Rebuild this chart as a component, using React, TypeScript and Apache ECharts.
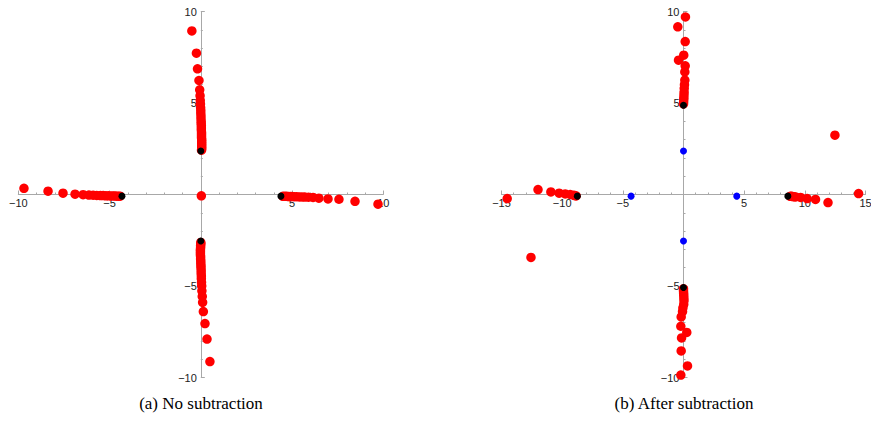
import React, { useEffect, useRef } from "react";
import * as echarts from "echarts";

// (a) No subtraction
const leftRed: number[][] = [
  // upper arm
  [-0.49, 8.94], [-0.24, 7.72], [-0.18, 6.87], [-0.1, 6.23], [-0.06, 5.72], [-0.04, 5.4],
  [-0.03, 5.15], [-0.02, 4.95], [-0.01, 4.75], [0, 4.6], [0, 4.45], [0.01, 4.3], [0.01, 4.15],
  [0.02, 4.0], [0.02, 3.88], [0.03, 3.76], [0.03, 3.64], [0.03, 3.52], [0.04, 3.4], [0.04, 3.3],
  [0.04, 3.2], [0.04, 3.1], [0.05, 3.0], [0.05, 2.9], [0.05, 2.8], [0.05, 2.7], [0.05, 2.6],
  [0.05, 2.5], [0.04, 2.42],
  // lower arm
  [0.5, -9.13], [0.34, -7.9], [0.23, -7.05], [0.14, -6.4], [0.1, -5.89], [0.08, -5.57],
  [0.06, -5.26], [0.05, -5.0], [0.04, -4.8], [0.03, -4.6], [0.03, -4.45], [0.02, -4.3],
  [0.02, -4.15], [0.01, -4.0], [0.01, -3.88], [0, -3.76], [0, -3.64], [-0.01, -3.52],
  [-0.01, -3.4], [-0.02, -3.3], [-0.02, -3.2], [-0.02, -3.1], [-0.02, -3.0], [-0.01, -2.9],
  [-0.01, -2.8], [0, -2.7], [0, -2.62],
  // left arm
  [-9.69, 0.34], [-8.37, 0.18], [-7.55, 0.07], [-6.89, 0.02], [-6.45, -0.01], [-6.13, -0.03],
  [-5.9, -0.04], [-5.7, -0.05], [-5.5, -0.06], [-5.35, -0.06], [-5.2, -0.07], [-5.05, -0.07],
  [-4.92, -0.08], [-4.8, -0.08], [-4.7, -0.08], [-4.6, -0.09], [-4.5, -0.09], [-4.42, -0.09],
  // right arm
  [4.5, -0.1], [4.6, -0.1], [4.7, -0.1], [4.8, -0.11], [4.9, -0.11], [5.0, -0.11],
  [5.12, -0.12], [5.25, -0.12], [5.4, -0.13], [5.55, -0.13], [5.7, -0.14], [5.9, -0.15],
  [6.15, -0.16], [6.47, -0.2], [6.97, -0.24], [7.57, -0.26], [8.45, -0.37], [9.71, -0.53],
  // centre
  [0.03, -0.07],
];
const leftBlack: number[][] = [[-4.32, -0.09], [4.39, -0.09], [0, 2.38], [0, -2.54]];

// (b) After subtraction
const rightRed: number[][] = [
  // upper arm
  [0.16, 9.7], [-0.47, 9.16], [0.14, 8.36], [0.02, 7.61], [-0.41, 7.34], [0.14, 7.03],
  [0.11, 6.7], [0.11, 6.25], [0.08, 6.0], [0.06, 5.8], [0.05, 5.6], [0.04, 5.45],
  [0.03, 5.3], [0.02, 5.18], [0.01, 5.05], [0.0, 4.95],
  // lower arm
  [-0.22, -9.87], [0.33, -9.37], [-0.19, -8.55], [-0.16, -7.84], [0.27, -7.54], [-0.22, -7.2],
  [-0.19, -6.69], [-0.08, -6.4], [-0.05, -6.2], [0.02, -6.0], [0.04, -5.8], [0.03, -5.65],
  [0.02, -5.5], [0.01, -5.38], [0, -5.26], [0, -5.15],
  // left arm
  [-14.53, -0.22], [-11.99, 0.27], [-10.93, 0.14], [-10.25, 0.07], [-9.75, 0.03], [-9.34, 0.0],
  [-9.07, -0.04], [-8.95, -0.06], [-8.85, -0.08],
  // right arm
  [8.8, -0.1], [8.9, -0.1], [9.0, -0.11], [9.1, -0.12], [9.24, -0.13], [9.65, -0.16],
  [10.19, -0.22], [10.88, -0.27], [11.91, -0.44], [14.43, 0.05],
  // outliers
  [12.48, 3.24], [-12.57, -3.44],
];
const rightBlack: number[][] = [[-8.75, -0.09], [8.6, -0.09], [0, 4.88], [0, -5.08]];
const rightBlue: number[][] = [[-4.32, -0.09], [4.39, -0.09], [0, 2.38], [0, -2.54]];

const captions = ["(a) No subtraction", "(b) After subtraction"];

const fmt = (v: number) => (v === 0 ? "" : v < 0 ? "\u2212" + Math.abs(v) : String(v));

const GRID_H = 366;
const LEFT_W = 365;
const RIGHT_W = 364;

function axis(gridIndex: number, min: number, max: number, isX: boolean, gridSize: number) {
  return {
    type: "value",
    gridIndex,
    min,
    max,
    interval: 5,
    position: isX ? "bottom" : "left",
    offset: -gridSize / 2,
    axisLine: { show: true, onZero: false, lineStyle: { color: "#a8a8a8", width: 1 } },
    axisTick: { show: true, inside: true, length: 4, lineStyle: { color: "#a8a8a8" } },
    minorTick: { show: true, splitNumber: 5, length: 2, lineStyle: { color: "#a8a8a8" } },
    splitLine: { show: false },
    minorSplitLine: { show: false },
    axisLabel: {
      show: true,
      formatter: fmt,
      color: "#222",
      fontSize: 11,
      fontFamily: "Liberation Sans, Arial, sans-serif",
      margin: isX ? 3 : 4,
      showMinLabel: true,
      showMaxLabel: true,
      hideOverlap: false,
    },
  };
}

export default function App() {
  const ref = useRef<HTMLDivElement>(null);
  useEffect(() => {
    if (!ref.current) return;
    const chart = echarts.init(ref.current, null, { renderer: "svg" });
    chart.setOption({
      animation: false,
      backgroundColor: "#ffffff",
      grid: [
        { left: 18.3, top: 11.5, width: LEFT_W, height: GRID_H, outerBoundsMode: "none", containLabel: false },
        { left: 501.5, top: 11.5, width: RIGHT_W, height: GRID_H, outerBoundsMode: "none", containLabel: false },
      ],
      xAxis: [axis(0, -10, 10, true, GRID_H), axis(1, -15, 15, true, GRID_H)],
      yAxis: [axis(0, -10, 10, false, LEFT_W), axis(1, -10, 10, false, RIGHT_W)],
      series: [
        { type: "scatter", xAxisIndex: 0, yAxisIndex: 0, data: leftRed, symbolSize: 9.5, itemStyle: { color: "#ff0000", opacity: 1 }, z: 2 },
        { type: "scatter", xAxisIndex: 0, yAxisIndex: 0, data: leftBlack, symbolSize: 7, itemStyle: { color: "#000000", opacity: 1 }, z: 3 },
        { type: "scatter", xAxisIndex: 1, yAxisIndex: 1, data: rightRed, symbolSize: 9.5, itemStyle: { color: "#ff0000", opacity: 1 }, z: 2 },
        { type: "scatter", xAxisIndex: 1, yAxisIndex: 1, data: rightBlack, symbolSize: 7, itemStyle: { color: "#000000", opacity: 1 }, z: 3 },
        { type: "scatter", xAxisIndex: 1, yAxisIndex: 1, data: rightBlue, symbolSize: 7, itemStyle: { color: "#0000ff", opacity: 1 }, z: 3 },
      ],
      graphic: [
        {
          type: "text",
          x: 201,
          y: 403,
          style: { text: captions[0], font: '17px "Liberation Serif", serif', fill: "#000", align: "center", verticalAlign: "middle" },
        },
        {
          type: "text",
          x: 684,
          y: 403,
          style: { text: captions[1], font: '17px "Liberation Serif", serif', fill: "#000", align: "center", verticalAlign: "middle" },
        },
      ],
    });
    return () => chart.dispose();
  }, []);
  return (
    <div
      ref={ref}
      style={{ position: "fixed", left: 0, top: 0, width: 871, height: 423 }}
    />
  );
}
